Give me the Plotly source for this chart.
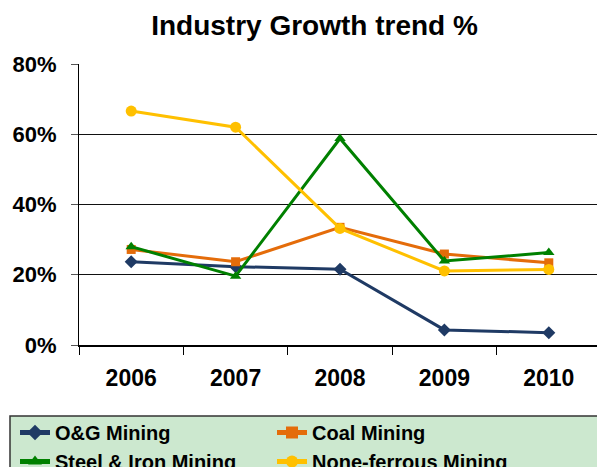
import plotly.graph_objects as go

years = ["2006", "2007", "2008", "2009", "2010"]
og_mining = [23.7, 22.3, 21.6, 4.3, 3.5]
coal_mining = [27.2, 23.7, 33.5, 25.9, 23.4]
steel_iron_mining = [28.0, 19.6, 58.8, 23.9, 26.3]
nonferrous_mining = [66.6, 62.0, 33.2, 21.1, 21.5]
y_ticks = [0, 20, 40, 60, 80]
y_tick_labels = ["0%", "20%", "40%", "60%", "80%"]

series = [
    ("O&G Mining", og_mining, "#1f3a64", "diamond", 10),
    ("Coal Mining", coal_mining, "#e46c0a", "square", 9),
    ("Steel & Iron Mining", steel_iron_mining, "#008000", "triangle-up", 10),
    ("None-ferrous Mining", nonferrous_mining, "#ffc000", "circle", 11),
]

# figure slightly wider than the window: the reference plot area runs past the right edge
W, H = 605, 467
L, R, T, B = 79, 4, 64, 122
pw = W - L - R
ph = H - T - B

fig = go.Figure()
for name, vals, color, sym, size in series:
    fig.add_trace(go.Scatter(
        x=years, y=vals, name=name, mode="lines+markers",
        line=dict(color=color, width=3),
        marker=dict(symbol=sym, size=size, color=color),
    ))

font_fam = "Liberation Sans, Arial, sans-serif"
legfont = dict(family=font_fam, size=20, color="black", weight="bold")

# legend background box (decoration)
fig.add_shape(type="rect", xref="paper", yref="paper", layer="below",
              x0=(10 - L) / pw, x1=(W + 5 - L) / pw,
              y0=-(H + 5 - T - ph) / ph, y1=-(416 - T - ph) / ph,
              fillcolor="#cce8cf", line=dict(color="#333", width=1.5))

fig.update_layout(
    width=W, height=H,
    margin=dict(l=L, r=R, t=T, b=B, autoexpand=False),
    paper_bgcolor="white", plot_bgcolor="white",
    title=dict(text="<b>Industry Growth trend %</b>", x=314.5 / W, xanchor="center",
               y=1 - 25/467, yanchor="middle",
               font=dict(family=font_fam, size=28, color="black")),
    font=dict(family=font_fam, color="black"),
    xaxis=dict(
        type="category", range=[-0.5, 4.5],
        showline=True, linecolor="black", linewidth=1.5,
        ticks="outside", ticklen=8, tickcolor="black", tickson="boundaries",
        showgrid=False, ticklabelstandoff=12,
        tickfont=dict(family=font_fam, size=23, color="black", weight="bold"),
    ),
    yaxis=dict(
        range=[0, 80], tickvals=y_ticks, ticktext=y_tick_labels,
        showline=True, linecolor="black", linewidth=1,
        ticks="outside", ticklen=7, tickcolor="#555",
        showgrid=True, gridcolor="#111", gridwidth=1.2, zeroline=False,
        ticklabelstandoff=10,
        tickfont=dict(family=font_fam, size=22, color="black", weight="bold"),
    ),
    legend=dict(
        orientation="h", xref="paper", yref="paper",
        x=(15 - L) / pw, xanchor="left", y=-(413 - T - ph) / ph, yanchor="top",
        bgcolor="rgba(0,0,0,0)", borderwidth=0,
        entrywidth=212, entrywidthmode="pixels",
        font=legfont, tracegroupgap=0, itemsizing="constant",
    ),
    showlegend=True,
)

fig.write_html(
    "out.html",
    config={"displayModeBar": False},
    post_script="document.body.style.margin='0';document.body.style.padding='0';"
                "document.body.style.overflow='hidden';"
                "document.documentElement.style.overflow='hidden';",
)
